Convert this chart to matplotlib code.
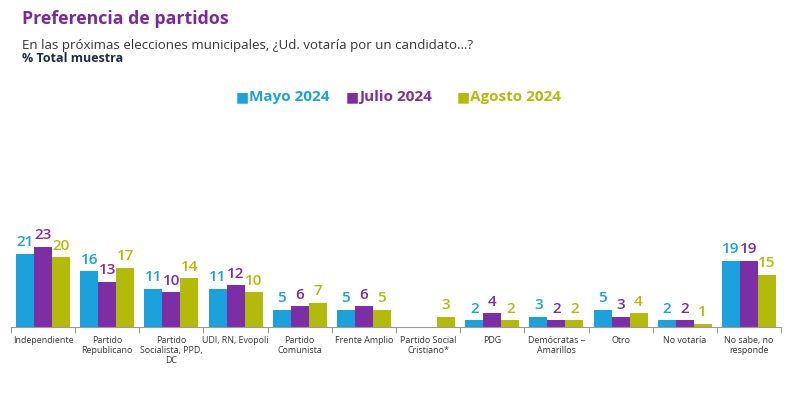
import numpy as np
import matplotlib.pyplot as plt

plt.rcParams['font.family'] = ['Open Sans', 'DejaVu Sans']

categorias = ['Independiente', 'Partido\nRepublicano', 'Partido\nSocialista, PPD,\nDC',
              'UDI, RN, Evopoli', 'Partido\nComunista', 'Frente Amplio',
              'Partido Social\nCristiano*', 'PDG', 'Demócratas –\nAmarillos', 'Otro',
              'No votaría', 'No sabe, no\nresponde']
mayo = [21, 16, 11, 11, 5, 5, None, 2, 3, 5, 2, 19]
julio = [23, 13, 10, 12, 6, 6, None, 4, 2, 3, 2, 19]
agosto = [20, 17, 14, 10, 7, 5, 3, 2, 2, 4, 1, 15]
series = ['Mayo 2024', 'Julio 2024', 'Agosto 2024']
colores = ['#1ba1db', '#7b2ea6', '#b3bb0a']

fig = plt.figure(figsize=(8, 3.96), dpi=100)
ax = fig.add_axes([11 / 800, 1 - 327 / 396, 770 / 800, 126 / 396])

n = len(categorias)
x = np.arange(n)
w = 0.28
for k, (vals, col) in enumerate(zip([mayo, julio, agosto], colores)):
    for i, v in enumerate(vals):
        if v is None:
            continue
        xi = x[i] + (k - 1) * w
        ax.bar(xi, v, width=w, color=col, align='center')
        ax.text(xi, v + 1.2, str(v), ha='center', va='bottom', color=col,
                fontsize=11, fontweight='semibold')

ax.set_xlim(-0.5, n - 0.5)
ax.set_ylim(0, 36)
for s in ['top', 'right', 'left']:
    ax.spines[s].set_visible(False)
ax.spines['bottom'].set_color('#9a9a9a')
ax.set_yticks([])
ax.set_xticks(np.arange(n + 1) - 0.5)
ax.set_xticklabels([])
ax.tick_params(axis='x', length=4, color='#9a9a9a')
for i, c in enumerate(categorias):
    ax.text(x[i], -2.5, c, ha='center', va='top', fontsize=6.4, color='#333333',
            linespacing=1.15)

fig.text(22 / 800, 1 - 19 / 396, 'Preferencia de partidos', fontsize=12.8,
         fontweight='bold', color='#7a2a99', va='center')
fig.text(22 / 800, 1 - 45 / 396,
         'En las próximas elecciones municipales, ¿Ud. votaría por un candidato…?',
         fontsize=9.5, color='#333333', va='center')
fig.text(22 / 800, 1 - 59 / 396, '% Total muestra', fontsize=9,
         fontweight='bold', color='#1f2a44', va='center')

# leyenda manual
leg_x = [236, 346, 457]
for lx, lab, col in zip(leg_x, series, colores):
    fig.text(lx / 800, 1 - 97 / 396, '■', fontsize=10, color=col, va='center',
             family='DejaVu Sans')
    fig.text((lx + 13) / 800, 1 - 97 / 396, lab, fontsize=11, fontweight='bold',
             color=col, va='center')

fig.savefig('out.png', dpi=100, facecolor='white')
